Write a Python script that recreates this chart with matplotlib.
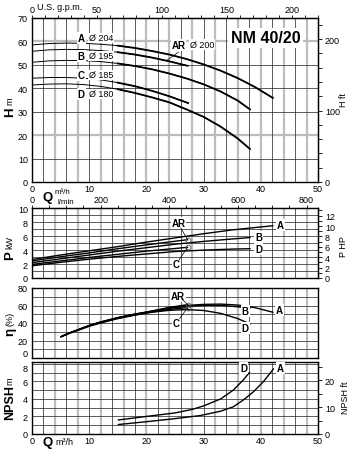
import numpy as np
import matplotlib
matplotlib.use("Agg")
import matplotlib.pyplot as plt

plt.rcParams['font.family'] = ['Liberation Sans', 'DejaVu Sans']

# H-Q curves (Q in m3/h, H in m)
q_h_a = [0, 3, 6, 9, 12, 15, 18, 21, 24, 27, 30, 33, 36, 39, 42.1]
h_a = [58.5, 59.1, 59.3, 59.2, 58.8, 58.2, 57.2, 55.9, 54.4, 52.5, 50.2, 47.5, 44.3, 40.5, 35.9]
q_h_ar = [0, 3, 6, 9, 12, 15, 18, 21, 24, 27.2]
h_ar = [55.8, 56.4, 56.6, 56.5, 56.1, 55.4, 54.4, 53.1, 51.5, 49.6]
q_h_b = [0, 3, 6, 9, 12, 15, 18, 21, 24, 27, 30, 33, 36, 38.1]
h_b = [51.1, 51.7, 51.9, 51.8, 51.4, 50.6, 49.5, 48.1, 46.3, 44.2, 41.7, 38.6, 34.7, 31.0]
q_h_c = [0, 3, 6, 9, 12, 15, 18, 21, 24, 27.3]
h_c = [44.3, 44.6, 44.6, 44.3, 43.6, 42.4, 40.9, 38.9, 36.6, 33.7]
q_h_d = [0, 3, 6, 9, 12, 15, 18, 21, 24, 27, 30, 33, 36, 38.1]
h_d = [41.4, 41.8, 41.9, 41.6, 40.8, 39.6, 38.0, 36.1, 34.0, 31.0, 27.8, 23.6, 18.5, 14.1]

# power curves (kW)
q_p_long = [0, 5, 10, 15, 20, 25, 30, 35, 42.1]
p_a = [2.65, 3.3, 3.9, 4.5, 5.15, 5.75, 6.35, 6.9, 7.5]
q_p_short = [0, 5, 10, 15, 20, 27.2]
p_ar = [2.45, 3.05, 3.6, 4.2, 4.75, 5.5]
p_c = [1.95, 2.45, 2.95, 3.4, 3.85, 4.4]
q_p_mid = [0, 5, 10, 15, 20, 25, 30, 35, 38.1]
p_b = [2.2, 2.75, 3.3, 3.85, 4.35, 4.85, 5.25, 5.6, 5.8]
p_d = [1.75, 2.25, 2.7, 3.1, 3.45, 3.8, 4.0, 4.15, 4.2]

# efficiency curves (%)
q_e_a = [5.1, 6.5, 8.4, 10, 12, 15, 18, 21, 24, 27, 30, 33, 36, 39, 42.1]
e_a = [24.4, 28.5, 33.3, 37.2, 41.2, 46.2, 50.2, 53.7, 57.5, 60.0, 61.3, 61.6, 60.5, 57.5, 52.3]
q_e_ar = [5.1, 6.5, 8.4, 10, 12, 15, 18, 21, 24, 27.2]
e_ar = [24.4, 28.5, 33.2, 37.1, 41.1, 46.1, 50.1, 53.6, 57.8, 61.0]
q_e_b = [5.1, 6.5, 8.4, 10, 12, 15, 18, 21, 24, 27, 30, 33, 36, 38.1]
e_b = [24.4, 28.4, 33.0, 36.9, 40.8, 45.8, 49.8, 53.2, 56.8, 59.0, 60.2, 60.2, 58.5, 56.8]
q_e_c = [5.1, 6.5, 8.4, 10, 12, 15, 18, 21, 24, 27.2]
e_c = [24.4, 28.3, 32.8, 36.6, 40.5, 45.4, 49.3, 52.7, 55.5, 57.5]
q_e_d = [5.1, 6.5, 8.4, 10, 12, 15, 18, 21, 24, 27, 30, 33, 36, 38.1]
e_d = [24.4, 28.2, 32.5, 36.3, 40.0, 45.0, 49.0, 52.3, 54.5, 55.3, 54.3, 51.0, 45.0, 38.9]

# NPSH curves (m)
q_n_a = [15.1, 20, 25, 29.4, 33, 35.2, 37, 38.7, 40.5, 42.2]
n_a = [1.08, 1.4, 1.75, 2.1, 2.6, 3.1, 3.9, 4.8, 6.0, 7.4]
q_n_d = [15.1, 20, 25, 28, 30, 33, 35.2, 37, 38]
n_d = [1.6, 2.0, 2.4, 2.8, 3.2, 4.0, 5.0, 6.2, 7.0]

W, H = 353, 452
fig = plt.figure(figsize=(W / 100, H / 100), dpi=100)


def box(x0, y0, x1, y1):
    return [x0 / W, 1 - y1 / H, (x1 - x0) / W, (y1 - y0) / H]


def ftext(x, y, s, **kw):
    fig.text(x / W, 1 - y / H, s, **kw)


def draw_grid(ax, ystep, ymax, gray_y=()):
    for q in range(2, 50, 2):
        if q % 4 == 0:
            ax.axvline(q, color='#bdbdbd', lw=1.6, zorder=0)
        else:
            ax.axvline(q, color='#303030', lw=0.55, zorder=0.5)
    for y in np.arange(ystep, ymax - 1e-6, ystep):
        if any(abs(y - g) < 1e-6 for g in gray_y):
            ax.axhline(y, color='#bdbdbd', lw=1.6, zorder=0)
        else:
            ax.axhline(y, color='#303030', lw=0.55, zorder=0.5)


def style(ax, ylim, yticks):
    ax.set_xlim(0, 50)
    ax.set_ylim(*ylim)
    ax.set_yticks(yticks)
    ax.tick_params(axis='both', length=0, labelsize=6.5, pad=3)
    for s in ax.spines.values():
        s.set_linewidth(1.0)
        s.set_color('black')


ax_h = fig.add_axes(box(32, 19, 318, 183))
ax_p = fig.add_axes(box(32, 209.3, 318, 279))
ax_e = fig.add_axes(box(32, 289, 318, 359))
ax_n = fig.add_axes(box(32, 363, 318, 435))

# ---- H panel
style(ax_h, (0, 70), range(0, 71, 10))
draw_grid(ax_h, 10, 70, gray_y=(20, 60))
ax_h.set_xticks(range(0, 51, 10))
ax_h.tick_params(axis='x', pad=1.5)
for q, h in [(q_h_a, h_a), (q_h_ar, h_ar), (q_h_b, h_b), (q_h_c, h_c), (q_h_d, h_d)]:
    ax_h.plot(q, h, color='black', lw=0.7, zorder=3)
    qq = [x for x in q if x >= 15]
    hh = [y for x, y in zip(q, h) if x >= 15]
    ax_h.plot(qq, hh, color='black', lw=1.3, zorder=3)

wb = dict(facecolor='white', edgecolor='none', pad=0.6)
for lbl, dia, hy in [('A', '204', 61.5), ('B', '195', 53.8), ('C', '185', 45.7), ('D', '180', 37.6)]:
    ax_h.text(8.0, hy, lbl, fontsize=7, fontweight='bold', va='center', bbox=wb, zorder=4)
    ax_h.text(9.9, hy, 'Ø ' + dia, fontsize=6.5, va='center', bbox=wb, zorder=4)
ax_h.text(24.4, 58.6, 'AR', fontsize=7, fontweight='bold', va='center', bbox=wb, zorder=4)
ax_h.text(27.6, 58.6, 'Ø 200', fontsize=6.5, va='center', bbox=wb, zorder=4)
ax_h.plot([25.6, 23.5], [55.4, 51.8], color='black', lw=0.5, zorder=4)
ax_h.text(40.8, 61.5, 'NM 40/20', fontsize=11.5, fontweight='bold', ha='center', va='center',
          bbox=dict(facecolor='white', edgecolor='none', pad=2), zorder=4)

sec = ax_h.secondary_yaxis('right', functions=(lambda m: m / 0.3048, lambda f: f * 0.3048))
sec.set_yticks([0, 100, 200])
sec.set_yticks(range(0, 231, 20), minor=True)
sec.tick_params(which='both', length=3, width=0.6, labelsize=6.5, pad=2)
top = ax_h.secondary_xaxis('top', functions=(lambda q: q * 4.403, lambda g: g / 4.403))
top.set_xticks([0, 50, 100, 150, 200])
top.set_xticks(range(0, 221, 10), minor=True)
top.tick_params(which='both', length=2, width=0.6, labelsize=6.5, pad=1)
ftext(60, 8, 'U.S. g.p.m.', fontsize=6.5, ha='center', va='center')

ftext(10, 112, 'H', fontsize=9.5, fontweight='bold', rotation=90, ha='center', va='center')
ftext(10, 101, 'm', fontsize=6.5, rotation=90, ha='center', va='center')
ftext(344, 100, 'H ft', fontsize=6.5, rotation=90, ha='center', va='center')

# Q label block between panels
ftext(48, 198, 'Q', fontsize=9.5, fontweight='bold', ha='center', va='center')
ftext(55, 193, 'm³/h', fontsize=5.8, ha='left', va='center')
ftext(57, 203, 'l/min', fontsize=5.8, ha='left', va='center')

# ---- P panel
style(ax_p, (0, 10), range(0, 11, 2))
draw_grid(ax_p, 1, 10)
ax_p.set_xticks([])
for q, p in [(q_p_long, p_a), (q_p_short, p_ar), (q_p_mid, p_b), (q_p_short, p_c), (q_p_mid, p_d)]:
    ax_p.plot(q, p, color='black', lw=1.0, zorder=3)
for q, p in [(q_p_short[-1], p_ar[-1]), (q_p_short[-1], p_c[-1])]:
    ax_p.plot(q, p, marker='o', ms=3.5, mfc='none', mec='#555555', mew=0.6, zorder=4)
ax_p.text(25.6, 7.9, 'AR', fontsize=7, fontweight='bold', ha='center', va='center', bbox=wb, zorder=4)
ax_p.plot([26.0, 27.2], [7.2, p_ar[-1]], color='black', lw=0.5, zorder=4)
ax_p.text(25.2, 2.0, 'C', fontsize=7, fontweight='bold', ha='center', va='center', bbox=wb, zorder=4)
ax_p.plot([25.7, 27.2], [2.6, p_c[-1]], color='black', lw=0.5, zorder=4)
ax_p.text(43.4, 7.6, 'A', fontsize=7, fontweight='bold', ha='center', va='center', bbox=wb, zorder=4)
ax_p.text(39.6, 5.9, 'B', fontsize=7, fontweight='bold', ha='center', va='center', bbox=wb, zorder=4)
ax_p.text(39.6, 4.2, 'D', fontsize=7, fontweight='bold', ha='center', va='center', bbox=wb, zorder=4)

sec = ax_p.secondary_yaxis('right', functions=(lambda k: k / 0.7457, lambda hp: hp * 0.7457))
sec.set_yticks(range(0, 13, 2))
sec.set_yticks(range(0, 14, 1), minor=True)
sec.tick_params(which='both', length=3, width=0.6, labelsize=6.5, pad=2)
top = ax_p.secondary_xaxis('top', functions=(lambda q: q * 1000 / 60, lambda l: l * 60 / 1000))
top.set_xticks([0, 200, 400, 600, 800])
top.set_xticks(range(0, 834, 50), minor=True)
top.tick_params(which='both', length=2, width=0.6, labelsize=6.5, pad=1)

ftext(10, 256, 'P', fontsize=9.5, fontweight='bold', rotation=90, ha='center', va='center')
ftext(10, 243, 'kW', fontsize=6.5, rotation=90, ha='center', va='center')
ftext(344, 247, 'P HP', fontsize=6.5, rotation=90, ha='center', va='center')

# ---- efficiency panel
style(ax_e, (0, 80), range(0, 81, 20))
draw_grid(ax_e, 10, 80)
ax_e.set_xticks([])
for q, e in [(q_e_a, e_a), (q_e_ar, e_ar), (q_e_b, e_b), (q_e_c, e_c), (q_e_d, e_d)]:
    ax_e.plot(q, e, color='black', lw=1.0, zorder=3)
for q, e in [(q_e_ar[-1], e_ar[-1]), (q_e_c[-1], e_c[-1])]:
    ax_e.plot(q, e, marker='o', ms=3.5, mfc='none', mec='#555555', mew=0.6, zorder=4)
ax_e.text(25.5, 71, 'AR', fontsize=7, fontweight='bold', ha='center', va='center', bbox=wb, zorder=4)
ax_e.plot([26.2, 27.2], [67.5, e_ar[-1]], color='black', lw=0.5, zorder=4)
ax_e.text(25.2, 40, 'C', fontsize=7, fontweight='bold', ha='center', va='center', bbox=wb, zorder=4)
ax_e.plot([25.8, 27.2], [45, e_c[-1]], color='black', lw=0.5, zorder=4)
ax_e.text(43.3, 54.5, 'A', fontsize=7, fontweight='bold', ha='center', va='center', bbox=wb, zorder=4)
ax_e.text(37.3, 53.5, 'B', fontsize=7, fontweight='bold', ha='center', va='center', bbox=wb, zorder=4)
ax_e.text(37.3, 34.5, 'D', fontsize=7, fontweight='bold', ha='center', va='center', bbox=wb, zorder=4)

ftext(10, 332, 'η', fontsize=9.5, fontweight='bold', rotation=90, ha='center', va='center')
ftext(10, 319, '(%)', fontsize=6.5, rotation=90, ha='center', va='center')

# ---- NPSH panel
style(ax_n, (0, 8.2), range(0, 9, 2))
draw_grid(ax_n, 1, 8.2)
ax_n.set_xticks(range(0, 51, 10))
ax_n.tick_params(axis='x', pad=1.5)
ax_n.plot(q_n_a, n_a, color='black', lw=1.0, zorder=3)
ax_n.plot(q_n_d, n_d, color='black', lw=1.0, zorder=3)
ax_n.text(37.0, 7.5, 'D', fontsize=7, fontweight='bold', ha='center', va='center', bbox=wb, zorder=4)
ax_n.text(43.4, 7.5, 'A', fontsize=7, fontweight='bold', ha='center', va='center', bbox=wb, zorder=4)

sec = ax_n.secondary_yaxis('right', functions=(lambda m: m / 0.3048, lambda f: f * 0.3048))
sec.set_yticks([0, 10, 20])
sec.set_yticks(range(0, 27, 5), minor=True)
sec.tick_params(which='both', length=3, width=0.6, labelsize=6.5, pad=2)

# keep the stacked "0" and "8" labels apart, as in the source sheet
ax_e.get_yticklabels()[0].set_va('bottom')
ax_n.get_yticklabels()[-1].set_va('top')

ftext(10, 403, 'NPSH', fontsize=9, fontweight='bold', rotation=90, ha='center', va='center')
ftext(10, 381, 'm', fontsize=6.5, rotation=90, ha='center', va='center')
ftext(346, 398, 'NPSH ft', fontsize=6.5, rotation=90, ha='center', va='center')
ftext(48, 443, 'Q', fontsize=9.5, fontweight='bold', ha='center', va='center')
ftext(55, 443, 'm³/h', fontsize=6.5, ha='left', va='center')

fig.savefig('out.png', dpi=100)
